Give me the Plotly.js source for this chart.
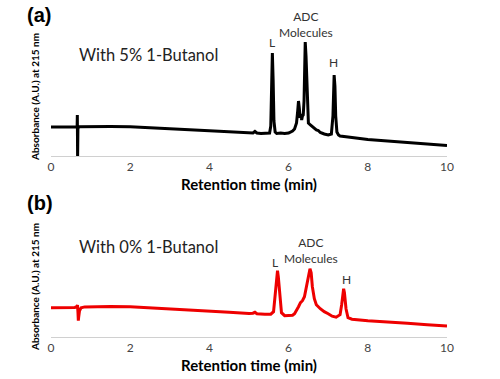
<!DOCTYPE html>
<html>
<head>
<meta charset="utf-8">
<script src="https://cdn.plot.ly/plotly-3.0.1.min.js"></script>
<style>html,body{margin:0;padding:0;background:#fff;}#chart{width:500px;height:379px;}</style>
</head>
<body>
<div id="chart"></div>
<script>
// Panel (a): with 5% 1-Butanol (black trace)
const timeA = [0, 0.3, 0.6, 0.66, 0.665, 0.672, 0.68, 0.72, 1.0, 1.5, 2.0, 2.5, 3.0, 3.5, 4.0, 4.5, 5.0, 5.1, 5.15, 5.2, 5.3, 5.45, 5.52, 5.55, 5.57, 5.59, 5.61, 5.63, 5.66, 5.7, 5.8, 5.9, 6.0, 6.05, 6.1, 6.15, 6.2, 6.23, 6.25, 6.27, 6.29, 6.31, 6.33, 6.35, 6.37, 6.39, 6.41, 6.42, 6.44, 6.46, 6.48, 6.5, 6.55, 6.6, 6.7, 6.75, 6.8, 6.9, 7.0, 7.08, 7.12, 7.15, 7.17, 7.19, 7.22, 7.26, 7.3, 7.5, 8.0, 8.5, 9.0, 9.5, 10.0];
const absA  = [29, 29, 29, 29, 41, -1, 28, 29.3, 29.5, 29.5, 29.3, 28.5, 27.3, 26.2, 25.2, 24, 23, 23, 24.5, 23, 22.5, 22.5, 23, 30, 70, 103, 75, 35, 24, 22.5, 23, 22.5, 23, 24, 25, 27, 33, 45, 55, 48, 38, 42, 36, 40, 41, 55, 90, 114, 100, 70, 45, 33, 31, 29, 26, 25.5, 23.5, 22, 21, 22, 40, 81, 70, 40, 24, 21, 20, 19, 16.5, 15, 13.5, 12, 10.5];

// Panel (b): with 0% 1-Butanol (red trace)
const timeB = [0, 0.3, 0.6, 0.65, 0.67, 0.68, 0.69, 0.7, 0.72, 0.76, 0.85, 1.0, 1.5, 2.0, 2.5, 3.0, 3.5, 4.0, 4.5, 5.0, 5.1, 5.15, 5.2, 5.4, 5.55, 5.62, 5.66, 5.7, 5.72, 5.74, 5.78, 5.82, 5.9, 6.0, 6.1, 6.15, 6.2, 6.25, 6.3, 6.35, 6.4, 6.45, 6.5, 6.54, 6.57, 6.6, 6.65, 6.7, 6.8, 6.9, 7.0, 7.1, 7.2, 7.3, 7.34, 7.37, 7.39, 7.41, 7.45, 7.5, 7.6, 8.0, 8.5, 9.0, 9.5, 10.0];
const absB  = [29, 29, 29.3, 30, 31.5, 25, 16, 20, 26, 29, 29.8, 30, 30.2, 30, 29, 28, 27, 25.8, 24.5, 23.2, 23.5, 24.5, 23, 22.5, 22.5, 25, 40, 62, 66, 60, 38, 24, 21, 21, 21.5, 23, 26, 30, 34, 36, 40, 50, 62, 68, 64, 50, 38, 32, 28, 25, 23, 20.5, 19.5, 22, 32, 44, 48, 44, 28, 19, 17.5, 16, 15, 13.5, 12, 10.7];

const xTicks = [0, 2, 4, 6, 8, 10];
const xTitle = 'Retention time (min)';
const yTitle = 'Absorbance (A.U.) at 215 nm';

const traces = [
  {x: timeA, y: absA, xaxis: 'x', yaxis: 'y', mode: 'lines', line: {color: '#000000', width: 3}, hoverinfo: 'skip'},
  {x: timeB, y: absB, xaxis: 'x2', yaxis: 'y2', mode: 'lines', line: {color: '#ee0000', width: 3}, hoverinfo: 'skip'}
];

const font = 'Lato, sans-serif';
const xaxisBase = {
  range: [0, 10], tickvals: xTicks, ticktext: xTicks.map(String),
  showgrid: false, zeroline: false, showline: true, linecolor: '#d0d0d0', linewidth: 1,
  ticks: '',
  tickfont: {family: font, size: 12, color: '#444'},
  fixedrange: true
};
const yaxisBase = {range: [0, 130], showgrid: false, zeroline: false, showline: false, showticklabels: false, ticks: '', fixedrange: true};

const labelFont = {family: font, size: 12, color: '#333'};
const xTitleFont = {family: font, size: 15, color: '#000', weight: 'bold'};

const layout = {
  width: 500, height: 379,
  margin: {l: 0, r: 0, t: 0, b: 0},
  paper_bgcolor: '#fff', plot_bgcolor: '#fff',
  showlegend: false,
  xaxis: Object.assign({}, xaxisBase, {domain: [0.102, 0.894], anchor: 'y'}),
  yaxis: Object.assign({}, yaxisBase, {domain: [0.5884, 0.9314], anchor: 'x'}),
  xaxis2: Object.assign({}, xaxisBase, {domain: [0.102, 0.894], anchor: 'y2'}),
  yaxis2: Object.assign({}, yaxisBase, {domain: [0.1116, 0.4546], anchor: 'x2'}),
  annotations: [
    {text: '(a)', xref: 'paper', yref: 'paper', x: 0.05, y: 1 - 15/379, xanchor: 'left', yanchor: 'middle', showarrow: false, font: {family: 'Liberation Sans, Arial, sans-serif', size: 20, color: '#000', weight: 'bold'}},
    {text: '(b)', xref: 'paper', yref: 'paper', x: 0.05, y: 1 - 203/379, xanchor: 'left', yanchor: 'middle', showarrow: false, font: {family: 'Liberation Sans, Arial, sans-serif', size: 20, color: '#000', weight: 'bold'}},
    {text: xTitle, xref: 'paper', yref: 'paper', x: 0.498, y: 1 - 183.5/379, xanchor: 'center', yanchor: 'middle', showarrow: false, font: xTitleFont},
    {text: xTitle, xref: 'paper', yref: 'paper', x: 0.498, y: 1 - 364.5/379, xanchor: 'center', yanchor: 'middle', showarrow: false, font: xTitleFont},
    {text: 'With 5% 1-Butanol', xref: 'paper', yref: 'paper', x: 77/500, y: 1 - 55/379, xanchor: 'left', yanchor: 'middle', showarrow: false, font: {family: font, size: 16.5, color: '#222'}},
    {text: 'With 0% 1-Butanol', xref: 'paper', yref: 'paper', x: 77/500, y: 1 - 247/379, xanchor: 'left', yanchor: 'middle', showarrow: false, font: {family: font, size: 16.5, color: '#222'}},
    {text: yTitle, xref: 'paper', yref: 'paper', x: 35/500, y: 1 - 97/379, xanchor: 'center', yanchor: 'middle', textangle: -90, showarrow: false, font: {family: font, size: 10, color: '#000', weight: 'bold'}},
    {text: yTitle, xref: 'paper', yref: 'paper', x: 35/500, y: 1 - 287/379, xanchor: 'center', yanchor: 'middle', textangle: -90, showarrow: false, font: {family: font, size: 10, color: '#000', weight: 'bold'}},
    {text: 'L', xref: 'x', yref: 'y', x: 5.59, y: 113, showarrow: false, font: labelFont},
    {text: 'ADC<br>Molecules', xref: 'x', yref: 'y', x: 6.45, y: 125, yshift: 6, showarrow: false, font: labelFont},
    {text: 'H', xref: 'x', yref: 'y', x: 7.13, y: 93, showarrow: false, font: labelFont},
    {text: 'L', xref: 'x2', yref: 'y2', x: 5.66, y: 74, showarrow: false, font: labelFont},
    {text: 'ADC<br>Molecules', xref: 'x2', yref: 'y2', x: 6.57, y: 86.7, showarrow: false, font: labelFont},
    {text: 'H', xref: 'x2', yref: 'y2', x: 7.45, y: 57.7, showarrow: false, font: labelFont}
  ]
};

Plotly.newPlot('chart', traces, layout, {staticPlot: true, displayModeBar: false});
</script>
</body>
</html>
